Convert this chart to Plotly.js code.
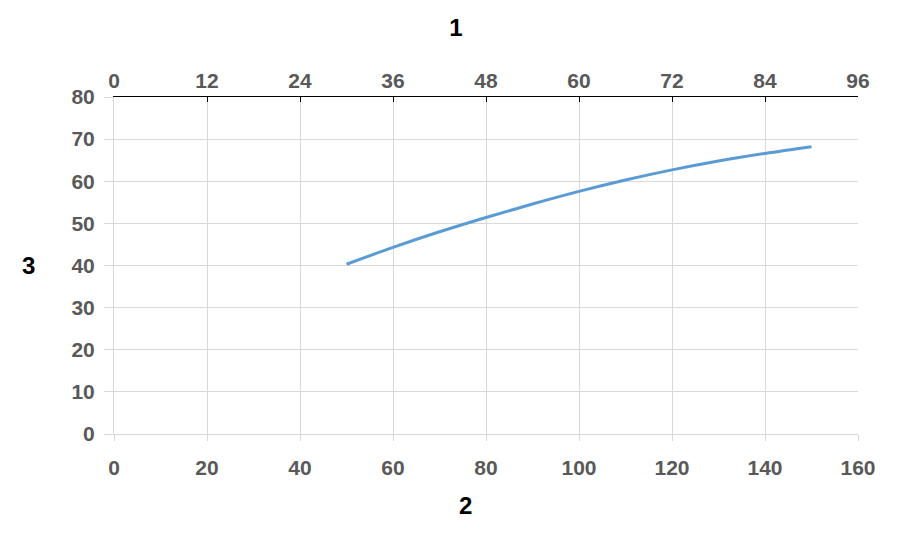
<!DOCTYPE html>
<html>
<head>
<meta charset="utf-8">
<script src="https://cdn.plot.ly/plotly-3.0.1.min.js"></script>
<style>html,body{margin:0;padding:0;background:#fff;}#chart{width:900px;height:538px;}</style>
</head>
<body>
<div id="chart"></div>
<script>
// Data
const xValues = [50, 60, 70, 80, 90, 100, 110, 120, 130, 140, 150];
const yValues = [40.3, 44.3, 48.0, 51.4, 54.6, 57.6, 60.3, 62.7, 64.8, 66.6, 68.2];
const bottomTicks = [0, 20, 40, 60, 80, 100, 120, 140, 160];
const topTicks = [0, 12, 24, 36, 48, 60, 72, 84, 96];
const leftTicks = [0, 10, 20, 30, 40, 50, 60, 70, 80];

const tickFont = {family: 'Liberation Sans Narrow, Arial Narrow, sans-serif', size: 21, color: '#595959', weight: 'bold'};
const titleFont = {family: 'Liberation Sans Narrow, Arial Narrow, sans-serif', size: 24, color: '#000000', weight: 'bold'};

const traces = [
  {x: xValues, y: yValues, type: 'scatter', mode: 'lines', line: {color: '#5b9bd5', width: 3, shape: 'spline'}, xaxis: 'x', yaxis: 'y', hoverinfo: 'skip'},
  {x: [topTicks[0], topTicks[topTicks.length-1]], y: [null, null], type: 'scatter', mode: 'lines', xaxis: 'x2', yaxis: 'y', showlegend: false, hoverinfo: 'skip'}
];

const L = 114, R = 42, T = 97, B = 104, W = 900, H = 538;
const pw = W - L - R, ph = H - T - B;

const layout = {
  width: W, height: H,
  margin: {l: L, r: R, t: T, b: B},
  paper_bgcolor: '#ffffff', plot_bgcolor: '#ffffff',
  showlegend: false,
  title: {text: '1', font: titleFont, x: 456/W, xanchor: 'center', xref: 'container', y: 1 - 28/H, yanchor: 'middle', yref: 'container'},
  xaxis: {
    range: [0, 160], tickvals: bottomTicks, ticktext: bottomTicks.map(String),
    showgrid: true, gridcolor: '#d9d9d9', gridwidth: 1,
    showline: true, linecolor: '#d9d9d9', linewidth: 1,
    ticks: 'outside', ticklen: 6, tickcolor: '#d9d9d9',
    tickfont: tickFont, ticklabelstandoff: 9, zeroline: false
  },
  xaxis2: {
    range: [0, 96], tickvals: topTicks, ticktext: topTicks.map(String),
    overlaying: 'x', side: 'top', anchor: 'y',
    showgrid: false, showline: true, linecolor: '#000000', linewidth: 1,
    ticks: 'inside', ticklen: 5, tickcolor: '#000000',
    tickfont: tickFont, zeroline: false
  },
  yaxis: {
    range: [0, 80], tickvals: leftTicks, ticktext: leftTicks.map(String),
    showgrid: true, gridcolor: '#d9d9d9', gridwidth: 1,
    showline: true, linecolor: '#d9d9d9', linewidth: 1,
    ticks: 'outside', ticklen: 9, tickcolor: '#d9d9d9',
    tickfont: tickFont, ticklabelstandoff: 5, zeroline: false
  },
  annotations: [
    {text: '2', font: titleFont, x: (465 - L) / pw, xref: 'paper', y: -(505 - T - ph) / ph, yref: 'paper', showarrow: false, xanchor: 'center', yanchor: 'middle'},
    {text: '3', font: titleFont, x: (28 - L) / pw, xref: 'paper', y: 40, yref: 'y', showarrow: false, xanchor: 'center', yanchor: 'middle'}
  ]
};
layout.annotations[0].y = 1 - (505 - T) / ph;

Plotly.newPlot('chart', traces, layout, {staticPlot: true, displayModeBar: false});
</script>
</body>
</html>
